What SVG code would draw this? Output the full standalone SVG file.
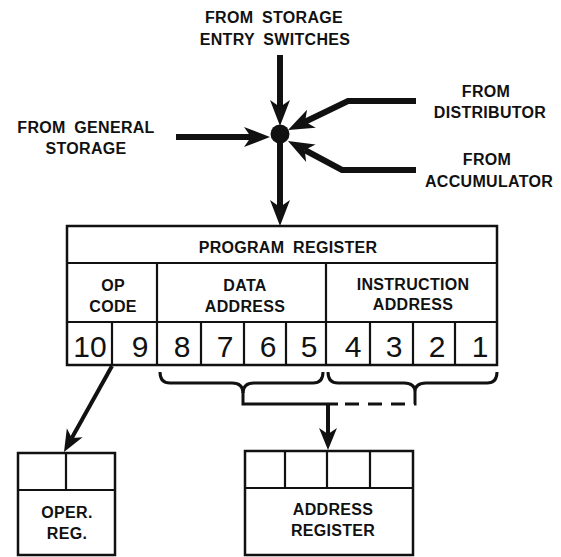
<svg xmlns="http://www.w3.org/2000/svg" width="561" height="557" viewBox="0 0 561 557">
<style>
.lbl{font-family:"Liberation Sans",Arial,sans-serif;font-weight:bold;font-size:16px;letter-spacing:0.3px;word-spacing:4px;fill:#111;text-anchor:middle}
.dig{font-family:"Liberation Sans",Arial,sans-serif;font-size:30px;fill:#111;text-anchor:middle}
.box{fill:#fff;stroke:#111;stroke-width:2.5}
.div{stroke:#111;stroke-width:2.2;fill:none}
.arr{stroke:#111;stroke-width:6;fill:none;stroke-linejoin:miter}
.arrs{stroke:#111;stroke-width:4;fill:none}
.brace{stroke:#111;stroke-width:3;fill:none}
</style>
<defs>
<marker id="ah" markerUnits="userSpaceOnUse" orient="auto" refX="0" refY="0" markerWidth="60" markerHeight="60" viewBox="-30 -30 60 60" overflow="visible">
<path d="M19,0 L-7,-10 L0,0 L-7,10 Z" fill="#111"/>
</marker>
<marker id="ahs" markerUnits="userSpaceOnUse" orient="auto" refX="0" refY="0" markerWidth="60" markerHeight="60" viewBox="-30 -30 60 60" overflow="visible">
<path d="M16,0 L-6,-9 L0,0 L-6,9 Z" fill="#111"/>
</marker>
</defs>
<rect width="561" height="557" fill="#fff"/>

<g id="src-storage-entry">
<text class="lbl" x="274" y="23">FROM STORAGE</text>
<text class="lbl" x="275" y="45">ENTRY SWITCHES</text>
</g>
<g id="src-general-storage">
<text class="lbl" x="86" y="133">FROM GENERAL</text>
<text class="lbl" x="86" y="154">STORAGE</text>
</g>
<g id="src-distributor">
<text class="lbl" x="486" y="97">FROM</text>
<text class="lbl" x="490" y="118">DISTRIBUTOR</text>
</g>
<g id="src-accumulator">
<text class="lbl" x="487" y="165">FROM</text>
<text class="lbl" x="489" y="187">ACCUMULATOR</text>
</g>
<g id="junction">
<circle cx="280" cy="134" r="9.5" fill="#111"/>
</g>

<g id="program-register">
<rect class="box" x="67" y="226" width="430" height="139"/>
<path class="div" d="M67,263 H497 M67,322 H497 M157,263 V365 M326,263 V365 M112,322 V365 M201,322 V365 M244,322 V365 M286,322 V365 M370,322 V365 M413,322 V365 M455,322 V365"/>
<text class="lbl" x="288" y="253">PROGRAM REGISTER</text>
<text class="lbl" x="113" y="291">OP</text>
<text class="lbl" x="113" y="312">CODE</text>
<text class="lbl" x="245" y="291">DATA</text>
<text class="lbl" x="245" y="312">ADDRESS</text>
<text class="lbl" x="413" y="290">INSTRUCTION</text>
<text class="lbl" x="413" y="310">ADDRESS</text>
<text class="dig" x="90" y="357">10</text>
<text class="dig" x="140" y="357">9</text>
<text class="dig" x="182" y="357">8</text>
<text class="dig" x="225" y="357">7</text>
<text class="dig" x="268" y="357">6</text>
<text class="dig" x="309" y="357">5</text>
<text class="dig" x="353" y="357">4</text>
<text class="dig" x="394" y="357">3</text>
<text class="dig" x="437" y="357">2</text>
<text class="dig" x="480" y="357">1</text>
</g>

<g id="oper-reg">
<rect class="box" x="18" y="453" width="97" height="102"/>
<path class="div" d="M18,490 H115 M66,453 V490"/>
<text class="lbl" x="67" y="518">OPER.</text>
<text class="lbl" x="67" y="539">REG.</text>
</g>

<g id="address-register">
<rect class="box" x="245" y="451" width="168" height="104"/>
<path class="div" d="M245,488 H413 M285,451 V488 M327,451 V488 M370,451 V488"/>
<text class="lbl" x="333" y="515">ADDRESS</text>
<text class="lbl" x="333" y="536">REGISTER</text>
</g>

<g id="connectors">
<line class="arr" x1="280" y1="55" x2="280" y2="107" marker-end="url(#ah)"/>
<line class="arr" x1="176" y1="137" x2="251" y2="137" marker-end="url(#ah)"/>
<polyline class="arr" points="416,101 348,101 305.1,121.8" marker-end="url(#ah)"/>
<polyline class="arr" points="416,170 342,170 304.7,150" marker-end="url(#ah)"/>
<line class="arr" x1="280" y1="143" x2="280" y2="207" marker-end="url(#ah)"/>
<line class="arrs" x1="112" y1="366" x2="71.8" y2="438" marker-end="url(#ahs)"/>
<path class="brace" d="M160,372 Q160,383 170,383 H232 Q243,383 243,393 Q243,383 254,383 H313 Q323,383 323,372"/>
<path class="brace" d="M328,372 Q328,383 338,383 H404 Q415,383 415,392 Q415,383 426,383 H487 Q497,383 497,372"/>
<path class="brace" d="M243,392 V404 H338"/>
<path class="brace" stroke-dasharray="14,9" d="M345,404 H415 V392"/>
<line class="arrs" x1="328" y1="404" x2="328" y2="434" marker-end="url(#ahs)"/>
</g>
</svg>
